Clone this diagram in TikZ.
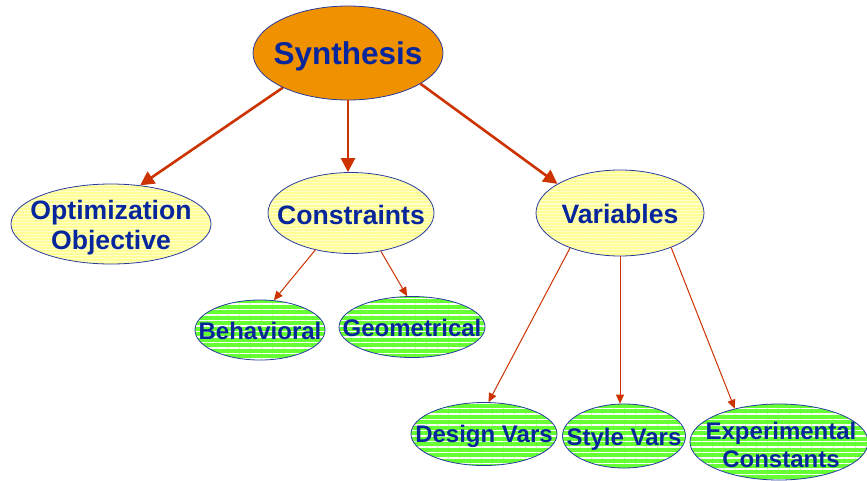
\documentclass[tikz,border=0pt]{standalone}
\usepackage{fontspec}
\setmainfont{Liberation Sans}
\usetikzlibrary{shapes.geometric,arrows.meta,patterns.meta}

\definecolor{txtblue}{RGB}{8,38,155}
\definecolor{rimblue}{RGB}{40,60,160}
\definecolor{synorange}{RGB}{240,145,0}
\definecolor{arrowred}{RGB}{204,51,0}
\definecolor{paleyellow}{RGB}{255,255,150}
\definecolor{stripeyellow}{RGB}{255,255,215}
\definecolor{leafgreen}{RGB}{102,255,51}

\tikzset{
  bubble/.style={ellipse, draw=rimblue, line width=0.8pt, inner sep=0pt},
  rootbubble/.style={bubble, fill=synorange},
  midbubble/.style={bubble,
    preaction={fill=paleyellow},
    preaction={pattern={Lines[angle=0,distance=3pt,line width=1pt]}, pattern color=stripeyellow}},
  leafbubble/.style={bubble,
    preaction={fill=leafgreen},
    preaction={pattern={Lines[angle=0,distance=5.5pt,line width=1.4pt]}, pattern color=white}},
  rootlbl/.style={text=txtblue, font=\bfseries\fontsize{31.5}{36}\selectfont, inner sep=0pt},
  midlbl/.style={text=txtblue, font=\bfseries\fontsize{26.6}{30}\selectfont, align=center, inner sep=0pt},
  leaflbl/.style={text=txtblue, font=\bfseries\fontsize{24}{28}\selectfont, align=center, inner sep=0pt},
  bigarrow/.style={draw=arrowred, line width=2.6pt, -{Triangle[length=14pt,width=14pt]}},
  thinarrow/.style={draw=arrowred, line width=1pt, -{Triangle[length=9pt,width=8pt]}},
}

\begin{document}
\begin{tikzpicture}[x=1pt,y=-1pt]
\useasboundingbox (0,0) rectangle (867,480);

% ellipses
\node[rootbubble, minimum width=190pt, minimum height=94pt] (syn) at (348,53) {};
\node[midbubble, minimum width=200pt, minimum height=80pt] (opt) at (111,224) {};
\node[midbubble, minimum width=166pt, minimum height=81pt] (con) at (351,213) {};
\node[midbubble, minimum width=168pt, minimum height=86pt] (var) at (620,213) {};
\node[leafbubble, minimum width=130pt, minimum height=60pt] (beh) at (260,330) {};
\node[leafbubble, minimum width=146pt, minimum height=61pt] (geo) at (412,327) {};
\node[leafbubble, minimum width=146pt, minimum height=63pt] (des) at (484,434) {};
\node[leafbubble, minimum width=123pt, minimum height=64pt] (sty) at (624,436) {};
\node[leafbubble, minimum width=178pt, minimum height=76pt] (exp) at (779,442) {};

% labels
\node[rootlbl] (synT) at (348,56) {Synthesis};
\node[midlbl] (optT) at (111,228) {Optimization\\Objective};
\node[midlbl] (conT) at (351,215) {Constraints};
\node[midlbl] (varT) at (620,214) {Variables};
\node[leaflbl] (behT) at (260,331) {Behavioral};
\node[leaflbl] (geoT) at (412,328) {Geometrical};
\node[leaflbl] (desT) at (484,436) {Design Vars};
\node[leaflbl] (styT) at (624,439) {Style Vars};
\node[leaflbl] (expT) at (781,445) {Experimental\\Constants};

% connectors
\draw[bigarrow] (syn.208) -- (opt.53);
\draw[bigarrow] (syn.south) -- (syn.south |- con.north);
\draw[bigarrow] (syn.337) -- (var.155);
\draw[thinarrow] (con.226) -- (beh.65);
\draw[thinarrow] (con.308) -- (geo.99);
\draw[thinarrow] (var.215) -- (des.82);
\draw[thinarrow] (var.south) -- (var.south |- sty.north);
\draw[thinarrow] (var.326) -- (exp.143);
\end{tikzpicture}
\end{document}
